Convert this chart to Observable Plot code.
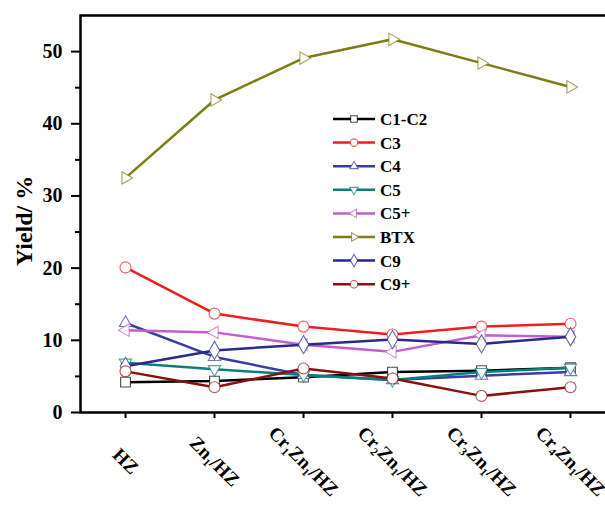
<!DOCTYPE html>
<html>
<head>
<meta charset="utf-8">
<script src="https://cdn.jsdelivr.net/npm/d3@7"></script>
<script src="https://cdn.jsdelivr.net/npm/@observablehq/plot@0.6"></script>
<style>
  html, body { margin: 0; padding: 0; background: #fff; overflow: hidden; width: 605px; height: 505px; }
  #chart { width: 605px; height: 505px; overflow: hidden; }
  #chart svg { max-width: none; }
</style>
</head>
<body>
<div id="chart"></div>
<script>
// ---- data ----
const categories = ["HZ", "Zn₁/HZ", "Cr₁Zn₁/HZ", "Cr₂Zn₁/HZ", "Cr₃Zn₁/HZ", "Cr₄Zn₁/HZ"];
const seriesNames = ["C1-C2", "C3", "C4", "C5", "C5+", "BTX", "C9", "C9+"];
const c1c2   = [4.2, 4.35, 4.9, 5.6, 5.8, 6.2];
const c3     = [20.1, 13.7, 11.9, 10.8, 11.9, 12.3];
const c4     = [12.4, 7.7, 5.2, 4.5, 5.1, 5.6];
const c5     = [6.9, 6.0, 5.2, 4.5, 5.6, 6.2];
const c5plus = [11.4, 11.1, 9.4, 8.4, 10.7, 10.5];
const btx    = [32.5, 43.3, 49.1, 51.7, 48.4, 45.1];
const c9     = [6.4, 8.6, 9.4, 10.1, 9.5, 10.5];
const c9plus = [5.7, 3.5, 6.1, 4.7, 2.3, 3.5];
const yTicks = [0, 10, 20, 30, 40, 50];
const yMinorTicks = [5, 15, 25, 35, 45];

const seriesValues = [c1c2, c3, c4, c5, c5plus, btx, c9, c9plus];
const colors = ["#000000", "#f01e1e", "#3c3ca8", "#0a8078", "#c060c8", "#7d7d14", "#2a2a8a", "#8a1010"];

// custom triangle symbols
function tri(baseDeg) {
  return {
    draw(ctx, size) {
      const R = Math.sqrt(size / Math.PI) * 1.3;
      for (let k = 0; k < 3; k++) {
        const a = (baseDeg + k * 120) * Math.PI / 180;
        const x = R * Math.cos(a), y = R * Math.sin(a);
        if (k === 0) ctx.moveTo(x, y); else ctx.lineTo(x, y);
      }
      ctx.closePath();
    }
  };
}
const symbols = [d3.symbolSquare, d3.symbolCircle, tri(-90), tri(90), tri(180), tri(0), d3.symbolDiamond, d3.symbolCircle];

const tidy = seriesNames.map((name, i) =>
  categories.map((c, j) => ({series: name, cat: c, value: seriesValues[i][j]}))
);

const serif = "'Liberation Serif', 'Times New Roman', serif";

const marks = [
  Plot.frame({stroke: "#000", strokeWidth: 2.5}),
  Plot.axisY({ticks: yTicks, tickSize: 9, strokeWidth: 2, tickFormat: () => "", label: null}),
  Plot.axisY({ticks: yMinorTicks, tickSize: 5, strokeWidth: 2, tickFormat: () => "", label: null}),
  Plot.text(yTicks, {y: d => d, frameAnchor: "left", dx: -18, textAnchor: "end", lineAnchor: "middle", fontSize: 20, fill: "#000"}),
  Plot.axisX({tickSize: 6, strokeWidth: 2, tickFormat: () => "", label: null}),
  Plot.text(categories, {x: d => d, frameAnchor: "bottom", dy: 49, rotate: 45, textAnchor: "middle", lineAnchor: "middle", fontSize: 19, fill: "#000"}),
  Plot.text(["Yield/ %"], {frameAnchor: "left", dx: -56, dy: 7, rotate: -90, textAnchor: "middle", lineAnchor: "middle", fontSize: 24, fill: "#000"})
];
tidy.forEach((d, i) => {
  marks.push(Plot.line(d, {x: "cat", y: "value", stroke: colors[i], strokeWidth: 2.5}));
  marks.push(Plot.dot(d, {x: "cat", y: "value", symbol: symbols[i], r: 5.5, fill: "#fff", stroke: colors[i], strokeWidth: 1.1, strokeOpacity: 0.7}));
});

const chart = Plot.plot({
  width: 620,
  height: 505,
  marginLeft: 80,
  marginRight: 6,
  marginTop: 15,
  marginBottom: 93,
  style: {background: "#fff", overflow: "hidden", fontFamily: serif, fontWeight: "bold", fontSize: "15px", color: "#000"},
  x: {type: "point", domain: categories, padding: 0.5, axis: null},
  y: {domain: [0, 55], axis: null},
  marks
});
document.getElementById("chart").appendChild(chart);

// ---- legend (inside plot) ----
const svg = d3.select(chart);
const lg = svg.append("g").attr("transform", "translate(333,119)").attr("text-anchor", "start");
seriesNames.forEach((name, i) => {
  const g = lg.append("g").attr("transform", `translate(0,${i * 23.6})`);
  g.append("line").attr("x1", 0).attr("x2", 42).attr("y1", 0).attr("y2", 0)
    .attr("stroke", colors[i]).attr("stroke-width", 2.5);
  g.append("path").attr("d", d3.symbol(symbols[i], 14 * Math.PI)())
    .attr("transform", "translate(21,0)")
    .attr("fill", "#fff").attr("stroke", colors[i]).attr("stroke-width", 1.1).attr("stroke-opacity", 0.7);
  g.append("text").attr("x", 47).attr("y", 0).attr("dy", "0.35em")
    .attr("font-family", serif).attr("font-weight", "bold").attr("font-size", 17)
    .attr("text-anchor", "start").attr("fill", "#000").text(name);
});
</script>
</body>
</html>
